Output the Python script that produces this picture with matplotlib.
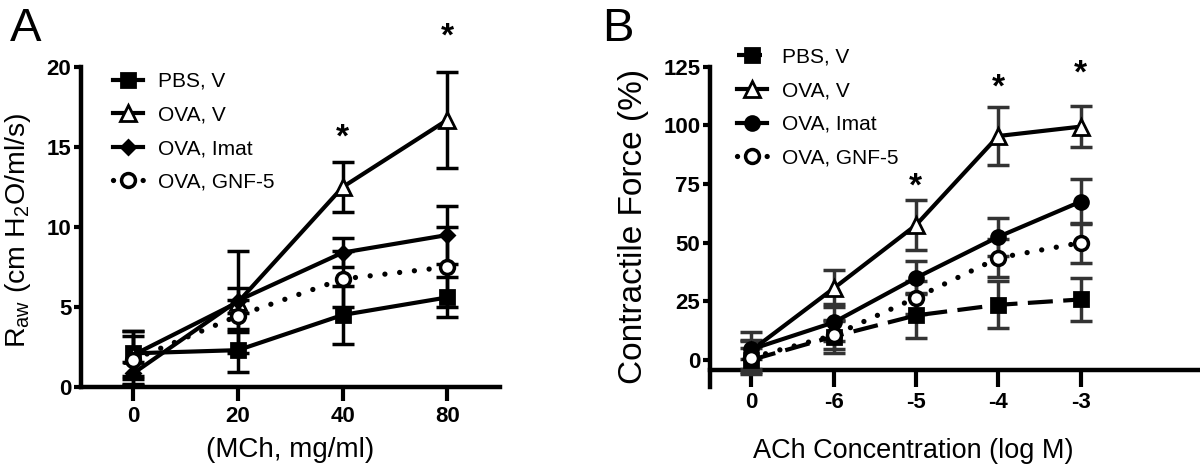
import numpy as np
import matplotlib
matplotlib.use("Agg")
from matplotlib import pyplot as plt

# panel A data
mch_labels = ["0", "20", "40", "80"]
pbs_a = [2.1, 2.3, 4.5, 5.6]
pbs_a_err = [1.4, 1.35, 1.8, 1.25]
ovav_a = [2.0, 5.3, 12.5, 16.7]
ovav_a_err = [1.5, 3.2, 1.55, 3.0]
imat_a = [0.85, 5.4, 8.4, 9.5]
imat_a_err = [0.7, 0.8, 0.9, 1.8]
gnf_a = [1.7, 4.45, 6.75, 7.5]
gnf_a_err = [1.5, 1.0, 1.75, 2.5]
star_a_x = [2, 3]
star_a_y = [16.0, 22.3]

# panel B data
ach_labels = ["0", "-6", "-5", "-4", "-3"]
pbs_b = [0.0, 10.0, 19.0, 23.5, 25.8]
pbs_b_err = [5, 7, 9.5, 10, 9]
ovav_b = [4.0, 30.5, 57.5, 95.5, 99.5]
ovav_b_err = [8, 8, 10.5, 12.3, 8.7]
imat_b = [4.5, 16.0, 35.0, 52.5, 67.5]
imat_b_err = [4, 8, 7, 8, 9.5]
gnf_b = [1.0, 10.5, 26.5, 43.5, 50.0]
gnf_b_err = [7, 6, 7, 8, 8.5]
star_b_x = [2, 3, 4]
star_b_y = [76.7, 119.0, 125.0]

plt.rcParams["font.family"] = ["Liberation Sans", "DejaVu Sans"]
plt.rcParams["mathtext.fontset"] = "custom"
plt.rcParams["mathtext.rm"] = "Liberation Sans"

LW = 3.0

fig = plt.figure(figsize=(12, 4.69), dpi=100)
axA = fig.add_axes([0.0675, 0.175, 0.349, 0.682])
axB = fig.add_axes([0.5917, 0.1755, 0.4083, 0.682])


def series(ax, x, y, err, marker, ls, mfc, ms, label, ecol="black"):
    ax.errorbar(x, y, yerr=err, fmt="none", ecolor=ecol, elinewidth=2.5,
                capsize=8, capthick=2.5, clip_on=False, zorder=3)
    if ls == "dot":
        line, = ax.plot(x, y, color="black", lw=3.8, linestyle=(0, (0.01, 2.8)),
                        dash_capstyle="round", marker=marker, ms=ms, mfc=mfc,
                        mec="black", mew=2.5, clip_on=False, zorder=4, label=label)
    elif ls == "dash":
        line, = ax.plot(x, y, color="black", lw=LW, linestyle=(0, (6, 2.5)),
                        marker=marker, ms=ms, mfc=mfc, mec="black", mew=2,
                        clip_on=False, zorder=4, label=label)
    else:
        line, = ax.plot(x, y, color="black", lw=LW, marker=marker, ms=ms,
                        mfc=mfc, mec="black", mew=2, clip_on=False, zorder=4,
                        label=label)
    return line


def style(ax):
    for s in ["top", "right"]:
        ax.spines[s].set_visible(False)
    for s in ["left", "bottom"]:
        ax.spines[s].set_linewidth(3.2)
    ax.tick_params(axis="y", length=5, width=3, pad=2, labelsize=16)
    ax.tick_params(axis="x", width=3, labelsize=16)
    for t in ax.get_xticklabels() + ax.get_yticklabels():
        t.set_fontweight("bold")


def stars(ax, xs, ys):
    for sx, sy in zip(xs, ys):
        ax.annotate("*", (sx, sy), xytext=(0, -5), textcoords="offset points",
                    ha="center", va="center", fontsize=24, fontweight="bold",
                    annotation_clip=False)


# ---- panel A ----
xa = np.arange(len(mch_labels))
hA = [
    series(axA, xa, pbs_a, pbs_a_err, "s", "solid", "black", 10, "PBS, V"),
    series(axA, xa, ovav_a, ovav_a_err, "^", "solid", "white", 11, "OVA, V"),
    series(axA, xa, imat_a, imat_a_err, "D", "solid", "black", 7, "OVA, Imat"),
    series(axA, xa, gnf_a, gnf_a_err, "o", "dot", "white", 10, "OVA, GNF-5"),
]
axA.set_xlim(-0.5, 3.5)
axA.set_ylim(0, 20)
axA.set_xticks(xa)
axA.set_xticklabels(mch_labels)
axA.set_yticks([0, 5, 10, 15, 20])
axA.tick_params(axis="x", length=10, pad=4)
style(axA)
axA.set_xlabel("(MCh, mg/ml)", fontsize=20)
axA.xaxis.set_label_coords(0.5, -0.155)
axA.set_ylabel(r"R$_{\mathregular{aw}}$ (cm H$_{\mathregular{2}}$O/ml/s)", fontsize=20.5)
axA.yaxis.set_label_coords(-0.115, 0.49)
stars(axA, star_a_x, star_a_y)
axA.legend(handles=hA, loc="upper left", bbox_to_anchor=(0.076, 0.985),
           frameon=False, fontsize=15, handlelength=1.45, handletextpad=0.72,
           labelspacing=0.7, borderpad=0, borderaxespad=0)

# ---- panel B ----
xb = np.arange(len(ach_labels))
ec = "#333333"
hB = [
    series(axB, xb, pbs_b, pbs_b_err, "s", "dash", "black", 10, "PBS, V", ec),
    series(axB, xb, ovav_b, ovav_b_err, "^", "solid", "white", 11, "OVA, V", ec),
    series(axB, xb, imat_b, imat_b_err, "o", "solid", "black", 10, "OVA, Imat", ec),
    series(axB, xb, gnf_b, gnf_b_err, "o", "dot", "white", 10, "OVA, GNF-5", ec),
]
axB.set_xlim(-0.5, 5.45)
axB.set_ylim(-11.4, 125)
axB.spines["bottom"].set_position(("data", -4.3))
axB.set_xticks(xb)
axB.set_xticklabels(ach_labels)
axB.set_yticks([0, 25, 50, 75, 100, 125])
axB.tick_params(axis="x", length=12, pad=4)
style(axB)
axB.set_xlabel("ACh Concentration (log M)", fontsize=19.5)
axB.xaxis.set_label_coords(0.414, -0.16)
axB.set_ylabel("Contractile Force (%)", fontsize=24)
axB.yaxis.set_label_coords(-0.125, 0.5)
stars(axB, star_b_x, star_b_y)
axB.legend(handles=hB, loc="upper left", bbox_to_anchor=(0.055, 1.06),
           frameon=False, fontsize=15, handlelength=1.45, handletextpad=0.72,
           labelspacing=0.7, borderpad=0, borderaxespad=0)

fig.text(0.008, 0.985, "A", fontsize=34, va="top", ha="left")
fig.text(0.502, 0.985, "B", fontsize=34, va="top", ha="left")

fig.savefig("out.png", dpi=100)
